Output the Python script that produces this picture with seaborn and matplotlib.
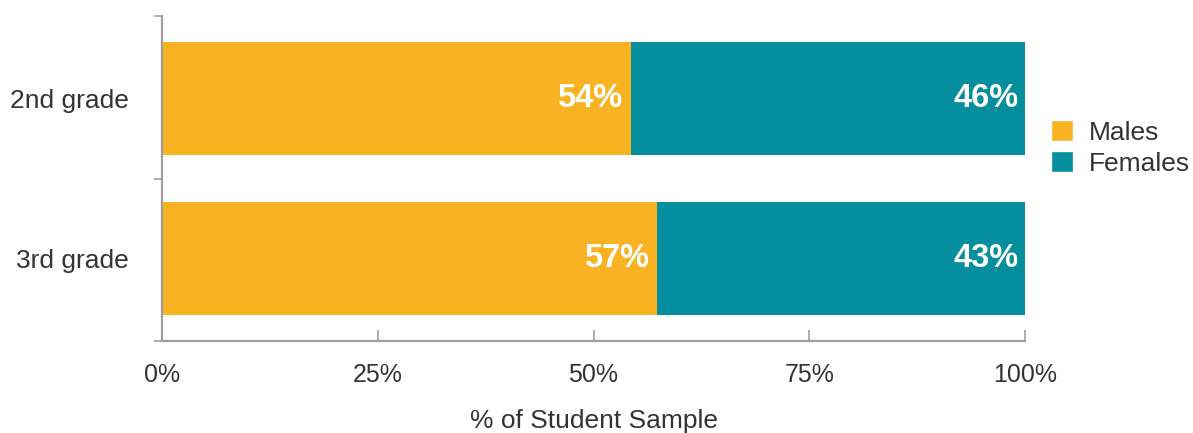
import matplotlib
matplotlib.use("Agg")
import matplotlib.pyplot as plt
import seaborn as sns
import pandas as pd
from matplotlib.patches import Patch

grades = ["2nd grade", "3rd grade"]
males = [54.3, 57.4]
females = [45.7, 42.6]
male_labels = ["54%", "57%"]
female_labels = ["46%", "43%"]
xticks = [0, 25, 50, 75, 100]
xtick_labels = ["0%", "25%", "50%", "75%", "100%"]

c_male = "#F9B322"
c_female = "#058E9E"
c_axis = "#A39D97"
c_text = "#333333"

sns.set_style("white")
plt.rcParams["font.family"] = ["Liberation Sans", "DejaVu Sans"]

df = pd.DataFrame({"grade": grades, "male": males,
                   "total": [m + f for m, f in zip(males, females)]})

fig = plt.figure(figsize=(11.93, 4.33), dpi=100)
ax = fig.add_axes([162/1193, 1-341/433, (1025-162)/1193, (341-16)/433])

sns.barplot(data=df, y="grade", x="total", color=c_female, orient="y",
            width=0.71, ax=ax, saturation=1, linewidth=0)
sns.barplot(data=df, y="grade", x="male", color=c_male, orient="y",
            width=0.71, ax=ax, saturation=1, linewidth=0)

ax.set_xlim(0, 100)
ax.set_ylim(1.52, -0.52)

for i, (m, t) in enumerate(zip(males, df["total"])):
    ax.text(m - 1.0, i, male_labels[i], ha="right", va="center",
            color="white", fontsize=23.5, fontweight="bold")
    ax.text(t - 0.7, i, female_labels[i], ha="right", va="center",
            color="white", fontsize=23.5, fontweight="bold")

for s in ["top", "right"]:
    ax.spines[s].set_visible(False)
for s in ["left", "bottom"]:
    ax.spines[s].set_color(c_axis)
    ax.spines[s].set_linewidth(1.6)

ax.set_xticks(xticks)
ax.set_xticklabels(xtick_labels)
ax.tick_params(axis="x", direction="in", length=8, width=1.2, color=c_axis,
               labelsize=18, labelcolor=c_text, pad=15.5, bottom=True)
ax.set_yticks([0, 1])
ax.set_yticklabels(grades)
ax.tick_params(axis="y", which="major", length=0, labelsize=19,
               labelcolor=c_text, pad=24)
ax.set_yticks([-0.52, 0.5, 1.52], minor=True)
ax.tick_params(axis="y", which="minor", direction="out", length=6,
               width=1.2, color=c_axis, left=True)

ax.set_xlabel("% of Student Sample", fontsize=19, color=c_text, labelpad=16.5)
ax.set_ylabel("")

handles = [Patch(facecolor=c_male, label="Males"),
           Patch(facecolor=c_female, label="Females")]
fig.legend(handles=handles, loc="center left",
           bbox_to_anchor=(1043/1193, 1-148/433), frameon=False,
           fontsize=19, handlelength=0.85, handleheight=0.85,
           handletextpad=0.6, labelspacing=0.25, labelcolor=c_text,
           borderaxespad=0, borderpad=0.3)

fig.savefig("out.png", dpi=100)
